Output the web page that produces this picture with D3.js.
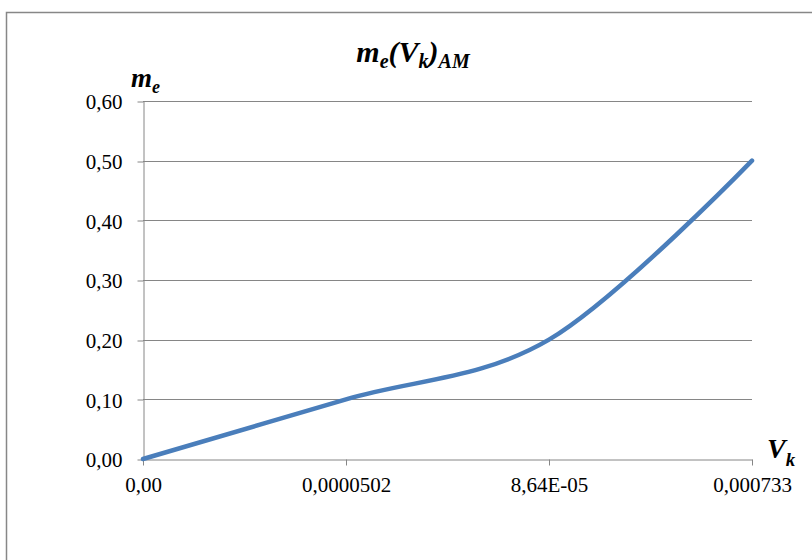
<!DOCTYPE html>
<html><head><meta charset="utf-8">
<script src="https://cdn.jsdelivr.net/npm/d3@7"></script>
<style>body{margin:0;background:#fff}svg{display:block}</style>
</head><body><svg id="c" width="812" height="560"></svg>
<script>
const categories = ["0,00", "0,0000502", "8,64E-05", "0,000733"];
const values = [0, 0.10, 0.20, 0.50];
const yTicks = [0, 0.1, 0.2, 0.3, 0.4, 0.5, 0.6];

const FONT = "'Liberation Serif', 'Times New Roman', serif";
const svg = d3.select("#c");
// outer chart border
svg.append("rect").attr("x", 6.5).attr("y", 12.5).attr("width", 820).attr("height", 560)
  .attr("fill", "none").attr("stroke", "#878787").attr("stroke-width", 1.5);

const x = d3.scalePoint().domain(categories).range([143, 752]);
const y = d3.scaleLinear().domain([0, 0.6]).range([459, 101]);
const fmt = v => d3.format(".2f")(v).replace(".", ",");

// gridlines
svg.append("g").selectAll("line").data(yTicks.filter(t => t > 0)).join("line")
  .attr("x1", 143).attr("x2", 752).attr("y1", d => Math.round(y(d)) + 0.5).attr("y2", d => Math.round(y(d)) + 0.5)
  .attr("stroke", "#868686").attr("stroke-width", 1);

// y axis
const ya = svg.append("g").attr("transform", "translate(143.5,0)")
  .call(d3.axisLeft(y).tickValues(yTicks).tickFormat(fmt).tickSize(6).tickSizeOuter(0).tickPadding(15));
ya.attr("font-family", null).attr("font-size", null);
ya.select(".domain").attr("stroke", "#868686");
ya.selectAll(".tick line").attr("stroke", "#868686").attr("transform", d => `translate(0,${Math.round(y(d)) + 0.5 - y(d)})`);
ya.selectAll(".tick text").style("font-size", "21px").style("font-family", FONT).attr("fill", "#000").attr("dy", "0.38em");

// x axis
const xa = svg.append("g").attr("transform", "translate(0,459.5)")
  .call(d3.axisBottom(x).tickSize(6).tickSizeOuter(0).tickPadding(12));
xa.attr("font-family", null).attr("font-size", null);
xa.select(".domain").attr("stroke", "#868686");
xa.selectAll(".tick line").attr("stroke", "#868686");
xa.selectAll(".tick text").style("font-size", "21px").style("font-family", FONT).attr("fill", "#000");

// line
const line = d3.line().x((d, i) => x(categories[i])).y(d => y(d)).curve(d3.curveCardinal.tension(0));
svg.append("path").datum(values).attr("d", line).attr("fill", "none")
  .attr("stroke", "#4a7ebb").attr("stroke-width", 4.5).attr("stroke-linecap", "round").attr("stroke-linejoin", "round");

// title
const t = svg.append("text").attr("x", 413).attr("y", 62).attr("text-anchor", "middle")
  .style("font-family", FONT).style("font-size", "30px").style("font-weight", "bold").style("font-style", "italic");
t.append("tspan").text("m");
t.append("tspan").style("font-size", "20px").attr("dy", 6).text("e");
t.append("tspan").attr("dy", -6).text("(V");
t.append("tspan").style("font-size", "20px").attr("dy", 6).text("k");
t.append("tspan").attr("dy", -6).text(")");
t.append("tspan").style("font-size", "20px").attr("dy", 6).text("AM");

// y axis title
const ym = svg.append("text").attr("x", 131).attr("y", 87)
  .style("font-family", FONT).style("font-size", "27px").style("font-weight", "bold").style("font-style", "italic");
ym.append("tspan").text("m");
ym.append("tspan").style("font-size", "18px").attr("dy", 6).text("e");

// x axis title
const xm = svg.append("text").attr("x", 767).attr("y", 458)
  .style("font-family", FONT).style("font-size", "28px").style("font-weight", "bold").style("font-style", "italic");
xm.append("tspan").text("V");
xm.append("tspan").style("font-size", "19px").attr("dy", 8).text("k");
</script></body></html>
